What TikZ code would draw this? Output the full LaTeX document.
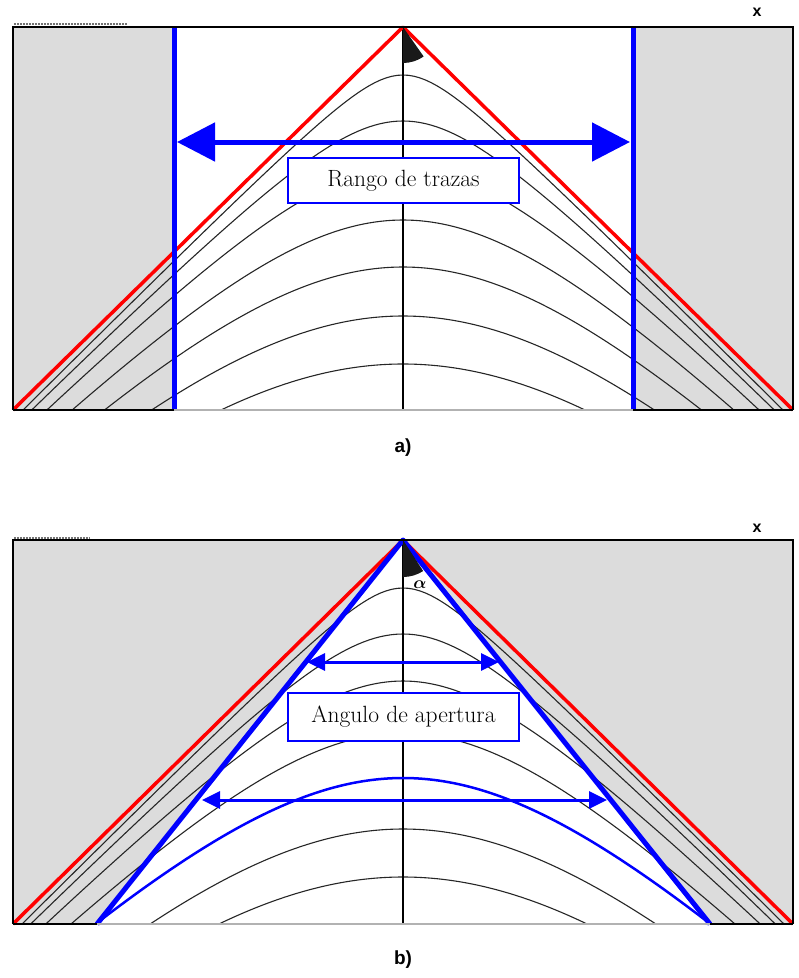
\documentclass[tikz,border=0pt]{standalone}
\usepackage{amsmath}
\usepackage{fontspec}
\newfontfamily\labfont{Liberation Sans}
\usetikzlibrary{arrows.meta}
\definecolor{bggray}{RGB}{220,220,220}
\definecolor{bl}{RGB}{0,0,255}
\definecolor{rd}{RGB}{255,0,0}
\tikzset{
  curve/.style={black!85, line width=1.1pt},
  axisline/.style={black, line width=2pt},
  redline/.style={rd, line width=3.5pt, line join=round},
  blueline/.style={bl, line width=5pt, line join=round},
  border/.style={black, line width=2.5pt},
  lightborder/.style={black!30, line width=2.5pt},
  labelbox/.style={draw=bl, line width=1.3pt, fill=white, minimum width=231pt, inner sep=0pt, font=\fontsize{23.5}{26}\selectfont},
  panellabel/.style={font=\labfont\bfseries\fontsize{19}{21}\selectfont},
  xlabel/.style={font=\labfont\bfseries\fontsize{16}{18}\selectfont},
  dots/.style={black!55, line width=1.5pt, dash pattern=on 1.5pt off 1.5pt},
  bigarrow/.style={bl, line width=5pt, {Triangle[length=38pt,width=38pt]}-{Triangle[length=38pt,width=38pt]}},
  smallarrow/.style={bl, line width=3pt, {Triangle[length=18pt,width=17pt]}-{Triangle[length=18pt,width=17pt]}},
  wedge/.style={fill=black!90},
}
\newcommand\hypcurves[1]{%
  \foreach \h in {#1}{%
    \draw[curve, domain=-3.95:3.95, samples=141, variable=\t]
      plot ({403+100*\t},{27+100*sqrt(\h*\h+\t*\t)});
  }%
}
\begin{document}
\begin{tikzpicture}[x=1pt,y=-1pt]
\useasboundingbox (0,0) rectangle (799,978);

% ---------------- panel a ----------------
\coordinate (aTL) at (13,27);
\coordinate (aTR) at (793,27);
\coordinate (aBL) at (13,410);
\coordinate (aBR) at (793,410);
\coordinate (aApex) at (403,27);
\coordinate (aBot) at (403,410);
\coordinate (aBlueLt) at (174,27);
\coordinate (aBlueLb) at (174,410);
\coordinate (aBlueRt) at (633,27);
\coordinate (aBlueRb) at (633,410);

\fill[bggray] (aTL) rectangle (aBlueLb);
\fill[bggray] (aBlueRt) rectangle (aBR);
\begin{scope}
  \clip (aTL) rectangle (aBR);
  \hypcurves{0.48, 0.94, 1.41, 1.93, 2.40, 2.89, 3.37}
\end{scope}
\draw[axisline] (aApex) -- (aBot);
\draw[redline] (aBL) -- (aApex) -- (aBR);
\draw[blueline] (aBlueLt) -- (aBlueLb);
\draw[blueline] (aBlueRt) -- (aBlueRb);
\fill[wedge] (aApex) -- ++(90:36) arc[start angle=90, end angle=55, radius=36] -- cycle;
\draw[lightborder] (aBL) -- (aBR);
\draw[border] (aBL) -- (aBlueLb);
\draw[border] (aBlueRb) -- (aBR);
\draw[border] (aBL) -- (aTL) -- (aTR) -- (aBR);
\draw[dots] (14,24) -- (127,24);

\coordinate (aArL) at (177,142);
\coordinate (aArR) at (630,142);
\draw[bigarrow] (aArL) -- (aArR);
\node[labelbox, minimum height=45pt] (ra) at (403.5,180.5) {Rango de trazas};
\node[panellabel] (la) at (403,448) {a)};
\node[xlabel] (xa) at (757,12) {x};

% ---------------- panel b ----------------
\begin{scope}[shift={(0,513)}]
\coordinate (bTL) at (13,27);
\coordinate (bTR) at (793,27);
\coordinate (bBL) at (13,411);
\coordinate (bBR) at (793,411);
\coordinate (bApex) at (403,27);
\coordinate (bBot) at (403,411);
\coordinate (bTriL) at (97,411);
\coordinate (bTriR) at (710,411);

\fill[bggray] (bTL) rectangle (bBR);
\fill[white] (bApex) -- (bTriL) -- (bTriR) -- cycle;
\begin{scope}
  \clip (bTL) rectangle (bBR);
  \hypcurves{0.48, 0.94, 1.41, 1.93, 2.89, 3.37}
\end{scope}
\draw[axisline] (bApex) -- (bBot);
\draw[redline] (bBL) -- (bApex) -- (bBR);
\draw[bl, line width=2.5pt, domain=-3.07:3.07, samples=121, variable=\t]
  plot ({403+100*\t},{27+100*sqrt(2.38*2.38+(\t/1.02)*(\t/1.02))});
\draw[blueline] (bTriL) -- (bApex) -- (bTriR);
\fill[wedge] (bApex) -- ++(90:37) arc[start angle=90, end angle=57, radius=37] -- cycle;
\node[font=\fontsize{19}{20}\selectfont] (alpha) at (420,72) {$\boldsymbol{\alpha}$};
\draw[lightborder] (bBL) -- (bBR);
\draw[border] (bBL) -- (bTriL);
\draw[border] (bTriR) -- (bBR);
\draw[border] (bBL) -- (bTL) -- (bTR) -- (bBR);
\draw[dots] (14,25) -- (90,25);

\coordinate (bAr1L) at (307,149);
\coordinate (bAr1R) at (499,149);
\coordinate (bAr2L) at (202,287);
\coordinate (bAr2R) at (607,287);
\draw[smallarrow] (bAr1L) -- (bAr1R);
\draw[smallarrow] (bAr2L) -- (bAr2R);
\node[labelbox, minimum height=48pt] (rb) at (403.5,204) {Angulo de apertura};
\node[panellabel] (lb) at (403,447) {b)};
\node[xlabel] (xb) at (757,15) {x};
\end{scope}
\end{tikzpicture}
\end{document}
